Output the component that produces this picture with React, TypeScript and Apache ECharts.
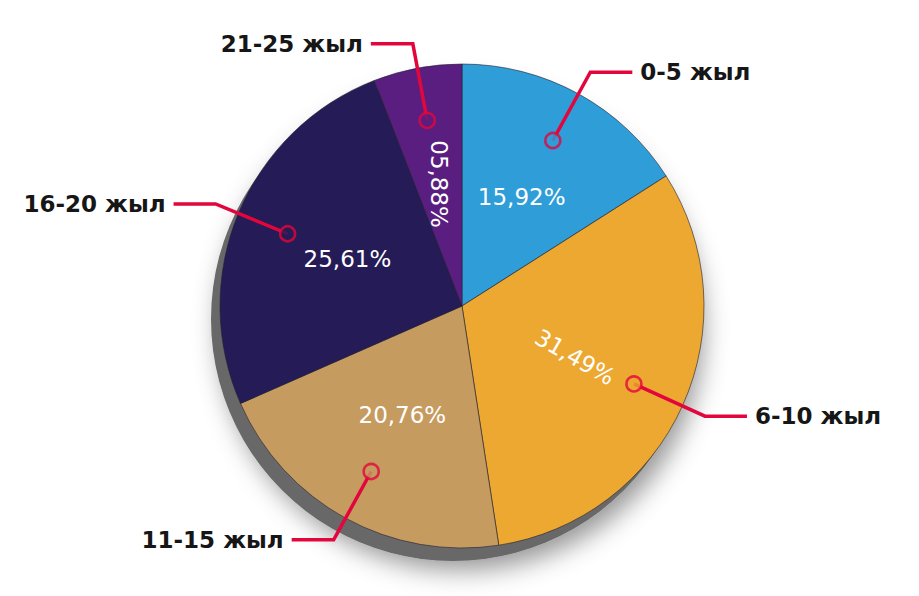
import React, { useEffect, useRef } from "react";
import * as echarts from "echarts";

// ---- data ----
const categories = ["0-5 жыл", "6-10 жыл", "11-15 жыл", "16-20 жыл", "21-25 жыл"];
const shares = [15.92, 31.49, 20.76, 25.61, 5.88];

// ---- styles (kept apart from the data) ----
const sliceColors = ["#2E9DD8", "#EDA832", "#C69B5F", "#251B57", "#5A1E80"];
const labelRotations = [0, -30, 0, 0, -90];
const RED = "#E2063C";
const FONT = "DejaVu Sans";
const CX = 462;
const CY = 306;
const R = 242;
const MARK_RATIO = 0.78;

const formatShare = (v: number) => {
  const [i, d] = v.toFixed(2).split(".");
  return `${i.padStart(2, "0")},${d}%`;
};

export default function App() {
  const ref = useRef<HTMLDivElement>(null);

  useEffect(() => {
    if (!ref.current) return;
    const chart = echarts.init(ref.current, undefined, { renderer: "svg" });
    const total = shares.reduce((a, b) => a + b, 0);
    const mids: number[] = [];
    let acc = 0;
    shares.forEach((v) => {
      mids.push(acc + v / 2);
      acc += v;
    });

    chart.setOption({
      animation: false,
      backgroundColor: "#ffffff",
      graphic: [
        {
          type: "circle",
          z: 0,
          silent: true,
          shape: { cx: CX - 9, cy: CY + 13, r: R },
          style: {
            fill: "#676767",
            shadowBlur: 26,
            shadowColor: "rgba(0,0,0,0.42)",
            shadowOffsetX: 8,
            shadowOffsetY: 9,
          },
        },
      ],
      polar: { center: [CX, CY], radius: R },
      angleAxis: {
        type: "value",
        min: 0,
        max: total,
        startAngle: 90,
        clockwise: true,
        show: false,
      },
      radiusAxis: { type: "value", min: 0, max: 1, show: false },
      series: [
        {
          type: "pie",
          z: 2,
          center: [CX, CY],
          radius: [0, R],
          startAngle: 90,
          clockwise: true,
          silent: true,
          avoidLabelOverlap: false,
          itemStyle: { borderColor: "rgba(35,35,50,0.6)", borderWidth: 1 },
          label: {
            show: true,
            position: "inside",
            color: "#ffffff",
            fontFamily: FONT,
            fontSize: 23,
            formatter: (p: any) => formatShare(p.value),
          },
          labelLine: { show: false },
          data: shares.map((v, i) => ({
            name: categories[i],
            value: v,
            itemStyle: { color: sliceColors[i] },
            label: { rotate: labelRotations[i] },
          })),
        },
        {
          type: "pie",
          z: 4,
          center: [CX, CY],
          radius: [0, R * MARK_RATIO],
          startAngle: 90,
          clockwise: true,
          silent: true,
          avoidLabelOverlap: false,
          itemStyle: { color: "rgba(0,0,0,0)", borderWidth: 0 },
          label: {
            show: true,
            position: "outside",
            color: "#161616",
            fontFamily: FONT,
            fontWeight: "bold",
            fontSize: 23,
            formatter: "{b}",
            distanceToLabelLine: 8,
          },
          labelLine: {
            show: true,
            length: 78,
            length2: 42,
            lineStyle: { color: RED, width: 3.5 },
          },
          data: shares.map((v, i) => ({ name: categories[i], value: v })),
        },
        {
          type: "scatter",
          coordinateSystem: "polar",
          silent: true,
          z: 6,
          symbol: "circle",
          symbolSize: 15,
          data: mids.map((m, i) => ({
            value: [MARK_RATIO, m],
            itemStyle: { color: sliceColors[i], borderColor: RED, borderWidth: 2.6 },
          })),
        },
      ],
    });

    return () => chart.dispose();
  }, []);

  return (
    <div
      ref={ref}
      style={{ position: "fixed", left: 0, top: 0, width: 919, height: 596, background: "#fff" }}
    />
  );
}
